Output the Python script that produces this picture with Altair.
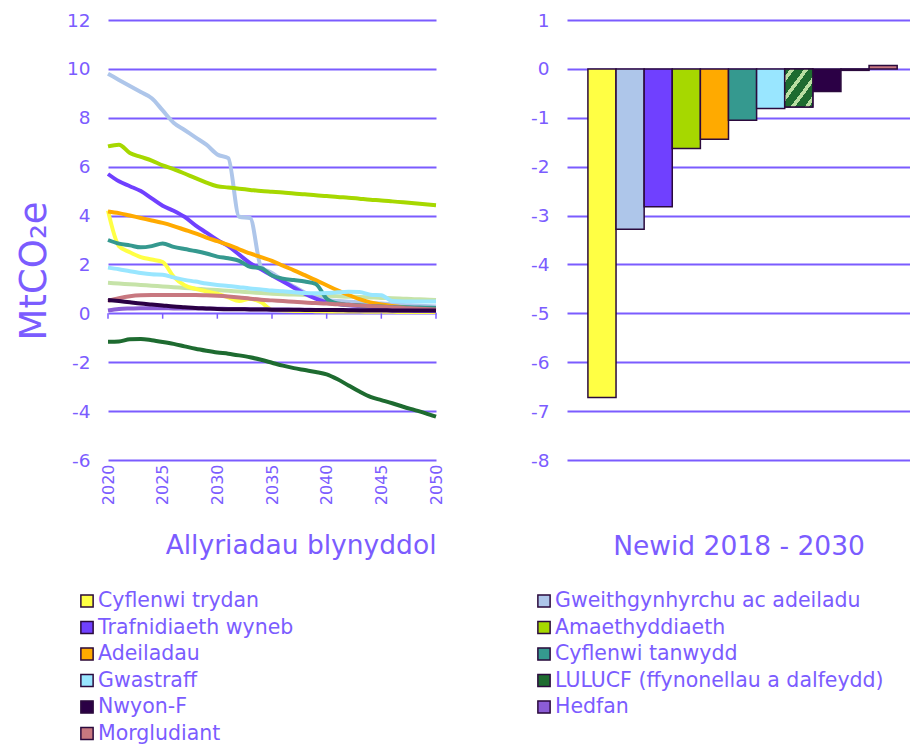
import altair as alt
import pandas as pd

FONT = "DejaVu Sans"
TXT = "#7B5CFF"
GRID = "#7B5CFF"

years = list(range(2020, 2051))
tick_years = [2020, 2025, 2030, 2035, 2040, 2045, 2050]
y_title = "MtCO₂e"

categories = [
    "Cyflenwi trydan",
    "Gweithgynhyrchu ac adeiladu",
    "Trafnidiaeth wyneb",
    "Amaethyddiaeth",
    "Adeiladau",
    "Cyflenwi tanwydd",
    "Gwastraff",
    "LULUCF (ffynonellau a dalfeydd)",
    "Nwyon-F",
    "Hedfan",
    "Morgludiant",
]
colors = [
    "#FFFF44", "#AEC6EA", "#7040FF", "#A6D800", "#FFAA00", "#35998F",
    "#99E6FF", "#1E6B30", "#2B0045", "#8B5CD6", "#C87880",
]

# Newid 2018 - 2030
change_2018_2030 = [-6.72, -3.28, -2.82, -1.63, -1.44, -1.05, -0.81, -0.78, -0.46, -0.03, 0.07]

# Allyriadau blynyddol (2020..2050)
cyflenwi_trydan = [4.2, 2.75, 2.5, 2.3, 2.2, 2.1, 1.5, 1.15, 1.0, 0.9, 0.8, 0.65, 0.5, 0.6, 0.45,
                   0.15, 0.12, 0.1, 0.1, 0.09, 0.08, 0.08, 0.07, 0.07, 0.06, 0.06, 0.06, 0.05, 0.05, 0.05, 0.05]
gweithgynhyrchu = [9.8, 9.55, 9.3, 9.05, 8.8, 8.3, 7.8, 7.5, 7.2, 6.9, 6.5, 6.35, 3.95, 3.9, 1.9,
                   1.65, 1.35, 1.1, 0.85, 0.65, 0.55, 0.5, 0.47, 0.45, 0.42, 0.4, 0.37, 0.34, 0.32, 0.3, 0.28]
trafnidiaeth = [5.7, 5.4, 5.2, 5.0, 4.7, 4.4, 4.2, 3.95, 3.6, 3.3, 3.0, 2.75, 2.4, 2.05, 1.8,
                1.55, 1.3, 1.05, 0.8, 0.6, 0.45, 0.38, 0.33, 0.3, 0.27, 0.24, 0.22, 0.2, 0.18, 0.17, 0.15]
amaethyddiaeth = [6.83, 6.9, 6.56, 6.4, 6.25, 6.05, 5.9, 5.72, 5.53, 5.35, 5.2, 5.15, 5.1, 5.05, 5.0,
                  4.97, 4.94, 4.9, 4.87, 4.83, 4.8, 4.76, 4.73, 4.69, 4.65, 4.62, 4.58, 4.54, 4.5, 4.46, 4.42]
adeiladau = [4.17, 4.1, 4.0, 3.9, 3.8, 3.7, 3.57, 3.42, 3.27, 3.1, 2.95, 2.8, 2.62, 2.45, 2.3,
             2.15, 1.95, 1.76, 1.56, 1.36, 1.15, 0.94, 0.75, 0.58, 0.45, 0.36, 0.3, 0.25, 0.18, 0.12, 0.08]
cyflenwi_tanwydd = [3.0, 2.85, 2.78, 2.7, 2.75, 2.86, 2.72, 2.63, 2.55, 2.45, 2.32, 2.25, 2.15, 1.9, 1.85,
                    1.55, 1.42, 1.36, 1.3, 1.2, 0.6, 0.4, 0.35, 0.33, 0.3, 0.28, 0.26, 0.25, 0.24, 0.23, 0.22]
gwastraff = [1.87, 1.8, 1.72, 1.65, 1.6, 1.58, 1.47, 1.37, 1.3, 1.22, 1.16, 1.12, 1.07, 1.02, 0.98,
             0.93, 0.9, 0.86, 0.83, 0.82, 0.83, 0.86, 0.88, 0.87, 0.76, 0.74, 0.5, 0.48, 0.48, 0.48, 0.48]
lulucf = [-1.16, -1.15, -1.06, -1.05, -1.1, -1.17, -1.25, -1.35, -1.45, -1.53, -1.6, -1.65, -1.72, -1.8, -1.9,
          -2.02, -2.14, -2.24, -2.32, -2.4, -2.5, -2.7, -2.95, -3.2, -3.42, -3.55, -3.68, -3.82, -3.95, -4.08, -4.23]
nwyon_f = [0.55, 0.5, 0.45, 0.4, 0.36, 0.32, 0.28, 0.25, 0.22, 0.2, 0.18, 0.17, 0.17, 0.16, 0.16,
           0.15, 0.15, 0.15, 0.14, 0.14, 0.14, 0.14, 0.13, 0.13, 0.13, 0.13, 0.12, 0.12, 0.12, 0.12, 0.12]
hedfan = [0.12, 0.18, 0.2, 0.21, 0.21, 0.21, 0.2, 0.2, 0.2, 0.19, 0.19, 0.18, 0.18, 0.17, 0.17,
          0.16, 0.16, 0.15, 0.15, 0.14, 0.14, 0.13, 0.13, 0.12, 0.12, 0.12, 0.11, 0.11, 0.1, 0.1, 0.1]
morgludiant = [0.51, 0.62, 0.7, 0.74, 0.75, 0.75, 0.75, 0.75, 0.75, 0.74, 0.72, 0.69, 0.65, 0.6, 0.56,
               0.53, 0.5, 0.47, 0.44, 0.42, 0.4, 0.37, 0.35, 0.32, 0.3, 0.27, 0.25, 0.22, 0.2, 0.18, 0.16]
arall = [1.25, 1.22, 1.19, 1.16, 1.13, 1.1, 1.07, 1.04, 1.01, 0.98, 0.95, 0.92, 0.89, 0.86, 0.83,
         0.8, 0.78, 0.77, 0.75, 0.73, 0.72, 0.7, 0.68, 0.67, 0.65, 0.63, 0.62, 0.6, 0.58, 0.57, 0.55]

series = {
    "LULUCF (ffynonellau a dalfeydd)": lulucf,
    "Cyflenwi trydan": cyflenwi_trydan,
    "Gweithgynhyrchu ac adeiladu": gweithgynhyrchu,
    "Trafnidiaeth wyneb": trafnidiaeth,
    "Amaethyddiaeth": amaethyddiaeth,
    "Adeiladau": adeiladau,
    "Cyflenwi tanwydd": cyflenwi_tanwydd,
    "Morgludiant": morgludiant,
    "Hedfan": hedfan,
    "Nwyon-F": nwyon_f,
    "Gwastraff": gwastraff,
}

rows = []
for order, (name, vals) in enumerate(series.items()):
    for y, v in zip(years, vals):
        rows.append({"sector": name, "year": y, "value": v, "order": order})
lines_df = pd.DataFrame(rows)
other_df = pd.DataFrame({"year": years, "value": arall})
ticks_df = pd.DataFrame({"year": tick_years})
bars_df = pd.DataFrame({"sector": categories, "change": change_2018_2030})
legend_df = pd.DataFrame({
    "sector": categories,
    "col": [i % 2 for i in range(len(categories))],
    "row": [i // 2 for i in range(len(categories))],
})
ytitle_df = pd.DataFrame({"t": [y_title]})

color_scale = alt.Scale(domain=categories, range=colors)

x_left = alt.X(
    "year:Q",
    scale=alt.Scale(domain=[2020, 2050], nice=False, zero=False),
    axis=alt.Axis(
        values=tick_years, format="d", labelAngle=-90, labelFontSize=16,
        labelPadding=4, ticks=False, domain=False, grid=False,
        title="Allyriadau blynyddol", titleFontSize=26.5, titleAnchor="end",
        titlePadding=28,
    ),
)
y_left = alt.Y(
    "value:Q",
    scale=alt.Scale(domain=[-6, 12], nice=False),
    axis=alt.Axis(
        values=[-6, -4, -2, 0, 2, 4, 6, 8, 10, 12], ticks=False, domain=False,
        labelFontSize=18.5, labelPadding=18, labelExpr="'' + datum.value", title=None,
    ),
)

other_line = alt.Chart(other_df).mark_line(
    strokeWidth=4, color="#C6E3A8", interpolate="monotone"
).encode(x=x_left, y=y_left)

main_lines = alt.Chart(lines_df).mark_line(strokeWidth=4, interpolate="monotone").encode(
    x=x_left,
    y=y_left,
    color=alt.Color("sector:N", scale=color_scale, legend=None),
    detail="sector:N",
    order="order:Q",
)

tick_marks = alt.Chart(ticks_df).mark_rule(color=GRID, strokeWidth=1.5).encode(
    x="year:Q", y=alt.datum(0), y2=alt.datum(-0.22)
)

lines_part = alt.layer(other_line, main_lines, tick_marks)

# Rotated y title as text
ytitle = alt.Chart(ytitle_df).mark_text(
    angle=270, align="center", baseline="alphabetic", fontSize=37, color=TXT, font=FONT,
).encode(x=alt.value(-62), y=alt.value(251), text="t:N")

# Legend drawn below both panels (two columns, row-major order)
leg_x = alt.X("col:Q", scale=alt.Scale(domain=[0, 1], range=[-21, 436]), axis=None)
leg_y = alt.Y("row:Q", scale=alt.Scale(domain=[0, 5], range=[581, 713.5]), axis=None)
leg_sym = alt.Chart(legend_df).mark_square(
    size=150, filled=True, stroke="#2B0A3D", strokeWidth=1.5, opacity=1
).encode(x=leg_x, y=leg_y, color=alt.Color("sector:N", scale=color_scale, legend=None))
leg_txt = alt.Chart(legend_df).mark_text(
    align="left", baseline="middle", dx=11, fontSize=20.5, color=TXT, font=FONT,
).encode(x=leg_x, y=leg_y, text="sector:N")
legend_part = alt.layer(leg_sym, leg_txt)

left = alt.layer(lines_part, legend_part, ytitle).resolve_scale(
    x="independent", y="independent"
).properties(width=328, height=440)

x_right = alt.X(
    "sector:N",
    sort=categories,
    scale=alt.Scale(paddingInner=0, paddingOuter=0.6, align=0.62),
    axis=alt.Axis(labels=False, ticks=False, domain=False, title="Newid  2018 - 2030",
                  titleFontSize=26.5, titlePadding=73),
)
y_right = alt.Y(
    "change:Q",
    scale=alt.Scale(domain=[-8, 1], nice=False),
    axis=alt.Axis(values=list(range(-8, 2)), ticks=False, domain=False,
                  labelFontSize=18.5, labelPadding=18, labelExpr="'' + datum.value", title=None),
)

bars = alt.Chart(bars_df).mark_bar(stroke="#2B0A3D", strokeWidth=1.5).encode(
    x=x_right,
    y=y_right,
    color=alt.Color("sector:N", scale=color_scale, legend=None),
)

hatch = alt.Gradient(
    gradient="linear", x1=0, y1=0, x2=1, y2=1,
    stops=[
        alt.GradientStop(offset=0.0, color="#1E6B30"),
        alt.GradientStop(offset=0.1, color="#1E6B30"),
        alt.GradientStop(offset=0.1, color="#B9DEA2"),
        alt.GradientStop(offset=0.18, color="#B9DEA2"),
        alt.GradientStop(offset=0.18, color="#1E6B30"),
        alt.GradientStop(offset=0.35, color="#1E6B30"),
        alt.GradientStop(offset=0.35, color="#B9DEA2"),
        alt.GradientStop(offset=0.43, color="#B9DEA2"),
        alt.GradientStop(offset=0.43, color="#1E6B30"),
        alt.GradientStop(offset=0.6, color="#1E6B30"),
        alt.GradientStop(offset=0.6, color="#B9DEA2"),
        alt.GradientStop(offset=0.68, color="#B9DEA2"),
        alt.GradientStop(offset=0.68, color="#1E6B30"),
        alt.GradientStop(offset=0.85, color="#1E6B30"),
        alt.GradientStop(offset=0.85, color="#B9DEA2"),
        alt.GradientStop(offset=0.93, color="#B9DEA2"),
        alt.GradientStop(offset=0.93, color="#1E6B30"),
        alt.GradientStop(offset=1.0, color="#1E6B30"),
    ],
)
hatched = alt.Chart(bars_df).transform_filter(
    alt.datum.sector == "LULUCF (ffynonellau a dalfeydd)"
).mark_bar(fill=hatch, stroke="#2B0A3D", strokeWidth=1.5).encode(x=x_right, y=y_right)

right = alt.layer(bars, hatched).properties(width=343, height=440)

chart = alt.hconcat(left, right, spacing=131, bounds="flush").properties(
    padding={"left": 8, "top": 3, "right": 0, "bottom": 0}
).configure(
    font=FONT,
).configure_view(stroke=None).configure_axis(
    labelColor=TXT, titleColor=TXT, labelFont=FONT, titleFont=FONT,
    titleFontWeight="normal",
    gridColor=GRID, gridWidth=1.8, gridOpacity=1,
)

chart.save("out.html", embed_options={"renderer": "svg", "actions": False})
